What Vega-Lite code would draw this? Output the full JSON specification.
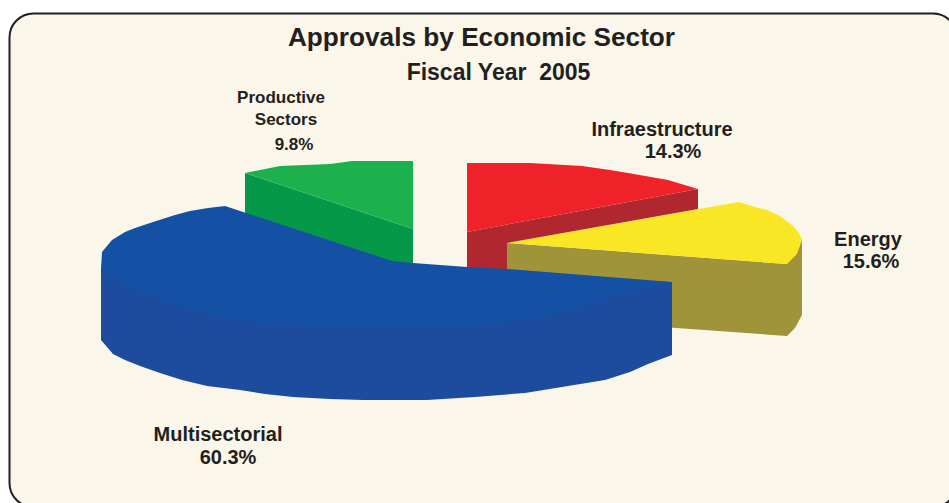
{"$schema":"https://vega.github.io/schema/vega-lite/v6.json","width":949,"height":503,"padding":0,"autosize":"none","background":"#ffffff","view":{"stroke":null},
"title":{"text":"Approvals by Economic Sector","font":"Liberation Sans","fontSize":26.2,"fontWeight":"bold","color":"#231F20","anchor":"middle","dx":7,"offset":-72,"baseline":"alphabetic"},
"encoding":{"x":{"field":"x","type":"quantitative","axis":null,"scale":{"domain":[0,949],"nice":false,"zero":false}},"y":{"field":"y","type":"quantitative","axis":null,"scale":{"domain":[503,0],"nice":false,"zero":false}}},
"layer":[
{"data":{"values":[{"x":9.5,"x2":957,"y":13.5,"y2":507}]},"mark":{"type":"rect","fill":"#FAF6E9","stroke":"#231F20","strokeWidth":2,"cornerRadius":24},"encoding":{"x2":{"field":"x2"},"y2":{"field":"y2"}}},
{"data":{"values":[
{"face":"energy side","i":1,"x":507,"y":243},{"face":"energy side","i":2,"x":787,"y":264},{"face":"energy side","i":3,"x":787,"y":336},{"face":"energy side","i":4,"x":507,"y":316},
{"face":"energy edge","i":1,"x":787,"y":264},{"face":"energy edge","i":2,"x":802,"y":240},{"face":"energy edge","i":3,"x":802,"y":315},{"face":"energy edge","i":4,"x":795,"y":328},{"face":"energy edge","i":5,"x":787,"y":336},
{"face":"energy top","i":1,"x":507,"y":243},{"face":"energy top","i":2,"x":739,"y":202},{"face":"energy top","i":3,"x":755,"y":207},{"face":"energy top","i":4,"x":767,"y":210},{"face":"energy top","i":5,"x":780,"y":216},{"face":"energy top","i":6,"x":793,"y":226},{"face":"energy top","i":7,"x":799,"y":233},{"face":"energy top","i":8,"x":802,"y":240},{"face":"energy top","i":9,"x":797,"y":254},{"face":"energy top","i":10,"x":787,"y":264},
{"face":"infra side","i":1,"x":467,"y":232},{"face":"infra side","i":2,"x":698,"y":189},{"face":"infra side","i":3,"x":698,"y":209},{"face":"infra side","i":4,"x":507,"y":243},{"face":"infra side","i":5,"x":507,"y":270},{"face":"infra side","i":6,"x":467,"y":270},
{"face":"infra top","i":1,"x":467,"y":163},{"face":"infra top","i":2,"x":530,"y":163},{"face":"infra top","i":3,"x":582,"y":166},{"face":"infra top","i":4,"x":610,"y":170},{"face":"infra top","i":5,"x":628,"y":173},{"face":"infra top","i":6,"x":668,"y":180},{"face":"infra top","i":7,"x":698,"y":189},{"face":"infra top","i":8,"x":467,"y":232},
{"face":"prod side","i":1,"x":245,"y":173},{"face":"prod side","i":2,"x":413,"y":229},{"face":"prod side","i":3,"x":413,"y":268},{"face":"prod side","i":4,"x":245,"y":225},
{"face":"prod top","i":1,"x":245,"y":173},{"face":"prod top","i":2,"x":280,"y":166},{"face":"prod top","i":3,"x":330,"y":164},{"face":"prod top","i":4,"x":352,"y":161},{"face":"prod top","i":5,"x":413,"y":161},{"face":"prod top","i":6,"x":413,"y":229},
{"face":"multi side","i":1,"x":101,"y":269},{"face":"multi side","i":2,"x":101,"y":340},{"face":"multi side","i":3,"x":107,"y":347},{"face":"multi side","i":4,"x":113,"y":354},{"face":"multi side","i":5,"x":125,"y":360},{"face":"multi side","i":6,"x":140,"y":366},{"face":"multi side","i":7,"x":160,"y":373},{"face":"multi side","i":8,"x":182,"y":380},{"face":"multi side","i":9,"x":207,"y":386},{"face":"multi side","i":10,"x":240,"y":390},{"face":"multi side","i":11,"x":265,"y":394},{"face":"multi side","i":12,"x":293,"y":397},{"face":"multi side","i":13,"x":330,"y":399},{"face":"multi side","i":14,"x":363,"y":400},{"face":"multi side","i":15,"x":427,"y":400},{"face":"multi side","i":16,"x":475,"y":397},{"face":"multi side","i":17,"x":525,"y":393},{"face":"multi side","i":18,"x":568,"y":386},{"face":"multi side","i":19,"x":605,"y":380},{"face":"multi side","i":20,"x":630,"y":372},{"face":"multi side","i":21,"x":648,"y":364},{"face":"multi side","i":22,"x":672,"y":355},{"face":"multi side","i":23,"x":672,"y":282},
{"face":"multi top","i":1,"x":225,"y":206},{"face":"multi top","i":2,"x":208,"y":208},{"face":"multi top","i":3,"x":190,"y":211},{"face":"multi top","i":4,"x":175,"y":215},{"face":"multi top","i":5,"x":150,"y":223},{"face":"multi top","i":6,"x":135,"y":228},{"face":"multi top","i":7,"x":125,"y":232},{"face":"multi top","i":8,"x":112,"y":240},{"face":"multi top","i":9,"x":102,"y":252},{"face":"multi top","i":10,"x":101,"y":269},{"face":"multi top","i":11,"x":110,"y":277},{"face":"multi top","i":12,"x":130,"y":288},{"face":"multi top","i":13,"x":167,"y":302},{"face":"multi top","i":14,"x":200,"y":312},{"face":"multi top","i":15,"x":233,"y":320},{"face":"multi top","i":16,"x":280,"y":325},{"face":"multi top","i":17,"x":333,"y":328},{"face":"multi top","i":18,"x":400,"y":330},{"face":"multi top","i":19,"x":440,"y":329},{"face":"multi top","i":20,"x":475,"y":326},{"face":"multi top","i":21,"x":510,"y":322},{"face":"multi top","i":22,"x":542,"y":317},{"face":"multi top","i":23,"x":575,"y":309},{"face":"multi top","i":24,"x":608,"y":299},{"face":"multi top","i":25,"x":640,"y":291},{"face":"multi top","i":26,"x":672,"y":282},{"face":"multi top","i":27,"x":507,"y":269},{"face":"multi top","i":28,"x":467,"y":267},{"face":"multi top","i":29,"x":413,"y":263},{"face":"multi top","i":30,"x":392,"y":261}
]},
"mark":{"type":"line","filled":true,"interpolate":"linear","strokeWidth":0},
"encoding":{"order":{"field":"i","type":"quantitative"},
"color":{"field":"face","type":"nominal","legend":null,"scale":{"domain":["energy side","energy edge","energy top","infra side","infra top","prod side","prod top","multi side","multi top"],"range":["#A0943A","#A0943A","#F9E625","#B0272F","#EF2229","#069849","#1CB14C","#1D4C9F","#1450A3"]}}}},
{"data":{"values":[{"t":"Fiscal Year \u00a02005","x":498.5,"y":80}]},"mark":{"type":"text","font":"Liberation Sans","fontSize":23,"fontWeight":"bold","color":"#231F20","align":"center","baseline":"alphabetic"},"encoding":{"text":{"field":"t"}}},
{"data":{"values":[{"t":"Productive","x":281,"y":103},{"t":"Sectors","x":286,"y":125},{"t":"9.8%","x":294,"y":150}]},"mark":{"type":"text","font":"Liberation Sans","fontSize":17,"fontWeight":"bold","color":"#231F20","align":"center","baseline":"alphabetic"},"encoding":{"text":{"field":"t"}}},
{"data":{"values":[{"t":"Infraestructure","x":662,"y":136},{"t":"14.3%","x":673,"y":158},{"t":"Energy","x":868,"y":246},{"t":"15.6%","x":871,"y":268},{"t":"Multisectorial","x":218,"y":441},{"t":"60.3%","x":228,"y":464}]},"mark":{"type":"text","font":"Liberation Sans","fontSize":20,"fontWeight":"bold","color":"#231F20","align":"center","baseline":"alphabetic"},"encoding":{"text":{"field":"t"}}}
]}
